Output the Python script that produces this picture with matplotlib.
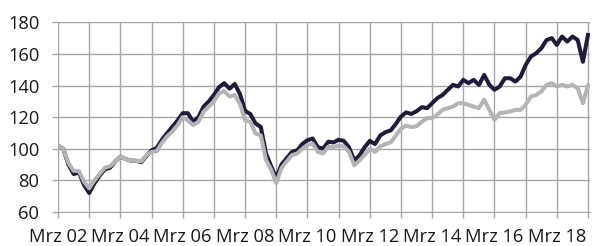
import numpy as np
import pandas as pd
import matplotlib
matplotlib.use('Agg')
import matplotlib.pyplot as plt
import matplotlib.dates as mdates

plt.rcParams['font.family'] = ['Open Sans', 'DejaVu Sans']

# Indexwerte, alle zwei Monate ab Mrz 2002
dunkel = [102, 100, 90, 84, 85, 77, 72, 78, 83, 87, 88, 92, 95, 93.5, 92.5, 92.4, 91.5, 95.5,
          99, 100.5, 105.8, 110, 114, 118, 122.5, 122.5, 117, 120, 126.7, 130, 134, 139, 141.5,
          138, 141, 134.6, 124, 122, 116, 113.8, 97, 88.8, 81.5, 90, 94, 98, 99, 103, 105.4,
          106.5, 101, 100, 104.5, 104, 105.7, 105, 101, 92.6, 95.8, 101, 105, 103, 108.4, 110.5,
          111.6, 115.8, 120.4, 123, 122, 123.8, 126.3, 125.7, 128.8, 132, 134, 137.3, 140.4,
          139.4, 143.6, 141.5, 143.6, 140.4, 146.7, 140.4, 137.3, 139.4, 144.6, 144.6, 142.5,
          145.7, 153, 158.3, 160.4, 163.6, 168.8, 170, 165.7, 171, 167.8, 171, 168.8, 155, 172]
grau = [102, 100, 91, 86, 86, 79, 75, 80, 84, 88, 89, 92, 95, 93.5, 92.6, 92.4, 92, 96,
        98, 98.5, 103.8, 108, 111, 115, 120, 118, 115, 117, 123.5, 126.7, 130, 135, 136.5,
        133, 134, 128.3, 118, 117, 109.6, 108.5, 93, 86.7, 78.3, 87.7, 92, 96, 97, 100, 102.3,
        103.3, 98, 97, 101.3, 101, 102, 101.5, 98, 89.5, 92.6, 96, 100, 98, 101.5, 103,
        104, 108.4, 112.6, 114.7, 113.7, 114.3, 117, 119.4, 119.4, 121.5, 124.6, 125.7, 126.7,
        128.8, 128.8, 127.8, 126.7, 125.7, 131, 124.6, 118.3, 122.5, 123, 123.6, 124.6,
        124.6, 127.8, 133, 134, 136.2, 140.4, 141.5, 139.4, 140.4, 139.4, 140.4, 138.3, 128.8, 140]
datum = pd.date_range('2002-03-01', periods=len(dunkel), freq='2MS')

w, h = 6.02, 2.46
fig = plt.figure(figsize=(w, h), dpi=100)
ax = fig.add_axes([58/602, 1-212/246, 532/602, 189.7/246])

ax.plot(datum, dunkel, '-', linewidth=2.9, color='#1f1c3a', solid_joinstyle='round')
ax.plot(datum, grau, '-', linewidth=2.9, color='#b4b4b4', solid_joinstyle='round')

ax.set_ylim(60, 180); ax.set_yticks(np.arange(60, 181, 20))
ax.set_xlim(pd.Timestamp('2002-03-01'), pd.Timestamp('2019-03-25'))
ax.xaxis.set_major_locator(mdates.YearLocator(1, month=3, day=1))
ax.xaxis.set_major_formatter(plt.FuncFormatter(
    lambda v, p: 'Mrz %02d' % (mdates.num2date(v).year % 100) if mdates.num2date(v).year % 2 == 0 else ''))

gc = '#a6a6a6'
ax.grid(True, color=gc, linewidth=1.0)
ax.set_axisbelow(True)
for s in ['top', 'right']:
    ax.spines[s].set_visible(False)
for s in ['left', 'bottom']:
    ax.spines[s].set_color(gc)
ax.tick_params(axis='both', colors=gc, length=4.5, width=1.0, labelcolor='#1a1a1a', labelsize=13.2)
ax.tick_params(axis='y', pad=9)
ax.tick_params(axis='x', pad=7)

fig.savefig('out.png', dpi=100)
